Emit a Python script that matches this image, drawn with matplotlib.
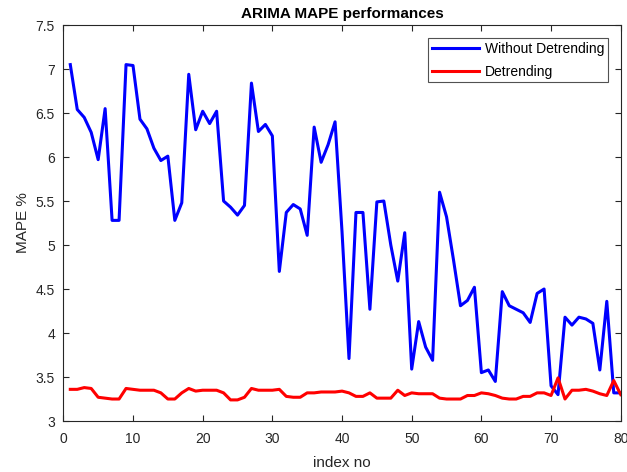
import matplotlib
matplotlib.use('Agg')
import matplotlib.pyplot as plt
import numpy as np

plt.rcParams['font.family'] = ['Liberation Sans', 'DejaVu Sans']

index_no = np.arange(1, 81)

without_detrending = [
    7.05, 6.54, 6.45, 6.28, 5.97, 6.55, 5.28, 5.28, 7.05, 7.04,
    6.43, 6.32, 6.10, 5.96, 6.01, 5.28, 5.48, 6.94, 6.31, 6.52,
    6.38, 6.52, 5.50, 5.43, 5.34, 5.45, 6.84, 6.29, 6.37, 6.24,
    4.70, 5.37, 5.46, 5.41, 5.11, 6.34, 5.94, 6.14, 6.40, 5.15,
    3.71, 5.37, 5.37, 4.27, 5.49, 5.50, 5.00, 4.59, 5.14, 3.59,
    4.13, 3.84, 3.69, 5.60, 5.32, 4.83, 4.31, 4.37, 4.52, 3.55,
    3.58, 3.45, 4.47, 4.31, 4.27, 4.23, 4.12, 4.45, 4.50, 3.40,
    3.30, 4.18, 4.09, 4.18, 4.16, 4.11, 3.58, 4.36, 3.32, 3.32,
]

detrending = [
    3.36, 3.36, 3.38, 3.37, 3.27, 3.26, 3.25, 3.25, 3.37, 3.36,
    3.35, 3.35, 3.35, 3.32, 3.25, 3.25, 3.32, 3.37, 3.34, 3.35,
    3.35, 3.35, 3.32, 3.24, 3.24, 3.27, 3.37, 3.35, 3.35, 3.35,
    3.36, 3.28, 3.27, 3.27, 3.32, 3.32, 3.33, 3.33, 3.33, 3.34,
    3.32, 3.28, 3.28, 3.32, 3.26, 3.26, 3.26, 3.35, 3.29, 3.32,
    3.31, 3.31, 3.31, 3.26, 3.25, 3.25, 3.25, 3.29, 3.29, 3.32,
    3.31, 3.29, 3.26, 3.25, 3.25, 3.28, 3.28, 3.32, 3.32, 3.29,
    3.49, 3.25, 3.35, 3.35, 3.36, 3.34, 3.31, 3.29, 3.46, 3.30,
]

x_ticks = np.arange(0, 81, 10)
y_ticks = np.arange(3, 7.51, 0.5)
y_labels = ['3', '3.5', '4', '4.5', '5', '5.5', '6', '6.5', '7', '7.5']

axis_color = '#262626'

fig = plt.figure(figsize=(6.27, 4.72), dpi=100)
ax = fig.add_axes([0.101, 0.108, 0.889, 0.839])

ax.plot(index_no, without_detrending, color='#0000ff', linewidth=2.2, label='Without Detrending')
ax.plot(index_no, detrending, color='#ff0000', linewidth=2.2, label='Detrending')

ax.set_xlim(0, 80)
ax.set_ylim(3, 7.5)
ax.set_xticks(x_ticks)
ax.set_yticks(y_ticks)
ax.set_yticklabels(y_labels)

ax.tick_params(direction='in', length=4, width=0.8, colors=axis_color,
               labelsize=10, top=True, right=True)
ax.tick_params(axis='x', pad=8)
ax.tick_params(axis='y', pad=6)
for sp in ax.spines.values():
    sp.set_color(axis_color)
    sp.set_linewidth(0.8)

ax.set_title('ARIMA MAPE performances', fontsize=11, fontweight='bold', color='black', pad=5)
ax.set_xlabel('index no', fontsize=11, color=axis_color, labelpad=7)
ax.set_ylabel('MAPE %', fontsize=11, color=axis_color, labelpad=4)

leg = ax.legend(loc='upper right', fontsize=10, frameon=True, fancybox=False,
                edgecolor=axis_color, handlelength=3.4, handletextpad=0.4,
                borderpad=0.25, labelspacing=0.65, borderaxespad=0.95)
leg.get_frame().set_linewidth(0.8)

fig.savefig('out.png', dpi=100)
